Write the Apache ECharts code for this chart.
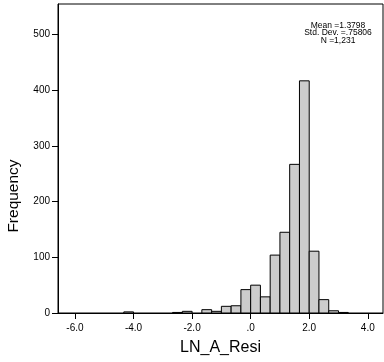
<!DOCTYPE html>
<html>
<head>
<meta charset="utf-8">
<script src="https://cdn.jsdelivr.net/npm/echarts@6/dist/echarts.min.js"></script>
<style>html,body{margin:0;padding:0;background:#fff}#c{width:384px;height:362px}</style>
</head>
<body>
<div id="c"></div>
<script>
// Histogram bins of LN_A_Resi (bin width 1/3)
const binLow  = [-4.333, -2.667, -2.333, -1.667, -1.333, -1.0, -0.667, -0.333, 0.0, 0.333, 0.667, 1.0, 1.333, 1.667, 2.0, 2.333, 2.667, 3.0];
const binHigh = [-4.0,   -2.333, -2.0,   -1.333, -1.0,   -0.667, -0.333, 0.0, 0.333, 0.667, 1.0, 1.333, 1.667, 2.0, 2.333, 2.667, 3.0, 3.333];
const counts  = [2, 1, 3, 6, 3, 12, 13, 42, 50, 29, 104, 145, 267, 417, 111, 24, 4, 1];

const xTickValues = [-6, -4, -2, 0, 2, 4];
const xTickLabels = ['-6.0', '-4.0', '-2.0', '.0', '2.0', '4.0'];
const yTickValues = [0, 100, 200, 300, 400, 500];
const yTickLabels = ['0', '100', '200', '300', '400', '500'];

const statsLines = ['Mean =1.3798', 'Std. Dev. =.75806', 'N =1,231'];
const xName = 'LN_A_Resi';
const yName = 'Frequency';

const FONT = '"Liberation Sans", Arial, Helvetica, sans-serif';
const data = binLow.map((v, i) => [v, binHigh[i], counts[i]]);

const chart = echarts.init(document.getElementById('c'), null, {renderer: 'canvas'});
chart.setOption({
  animation: false,
  backgroundColor: '#fff',
  grid: {left: 58, right: 1, top: 4, bottom: 49, show: true, borderColor: '#000', borderWidth: 1, containLabel: false},
  xAxis: {
    type: 'value', min: -6.58, max: 4.52,
    name: xName, nameLocation: 'middle', nameGap: 27,
    nameTextStyle: {fontFamily: FONT, fontSize: 16, color: '#000'},
    axisLine: {show: true, onZero: false, lineStyle: {color: '#000', width: 1}},
    axisTick: {show: true, inside: false, length: 6, customValues: xTickValues, lineStyle: {color: '#000'}},
    axisLabel: {show: true, margin: 10, customValues: xTickValues, fontFamily: FONT, fontSize: 10, color: '#000',
      formatter: v => xTickLabels[xTickValues.indexOf(v)]},
    splitLine: {show: false}
  },
  yAxis: {
    type: 'value', min: 0, max: 555,
    axisLine: {show: true, onZero: false, lineStyle: {color: '#000', width: 1}},
    axisTick: {show: true, inside: false, length: 6, customValues: yTickValues, lineStyle: {color: '#000'}},
    axisLabel: {show: true, margin: 8, customValues: yTickValues, fontFamily: FONT, fontSize: 10, color: '#000',
      formatter: v => yTickLabels[yTickValues.indexOf(v)]},
    splitLine: {show: false}
  },
  series: [{
    type: 'custom',
    data: data,
    encode: {x: [0, 1], y: 2},
    renderItem: function (params, api) {
      const p0 = api.coord([api.value(0), 0]);
      const p1 = api.coord([api.value(1), api.value(2)]);
      return {
        type: 'rect',
        shape: {x: p0[0], y: p1[1], width: p1[0] - p0[0], height: p0[1] - p1[1]},
        style: {fill: '#cccccc', stroke: '#000', lineWidth: 1}
      };
    }
  }],
  graphic: [
    {type: 'text', x: 338, y: 21.5, style: {text: statsLines.join('\n'), textAlign: 'center', textVerticalAlign: 'top',
      fontFamily: FONT, fontSize: 8.5, lineHeight: 7.7, fill: '#000'}},
    {type: 'text', x: 13.5, y: 196, rotation: Math.PI / 2, style: {text: yName, textAlign: 'center', textVerticalAlign: 'middle',
      fontFamily: FONT, fontSize: 15.5, fill: '#000'}}
  ]
});
</script>
</body>
</html>
